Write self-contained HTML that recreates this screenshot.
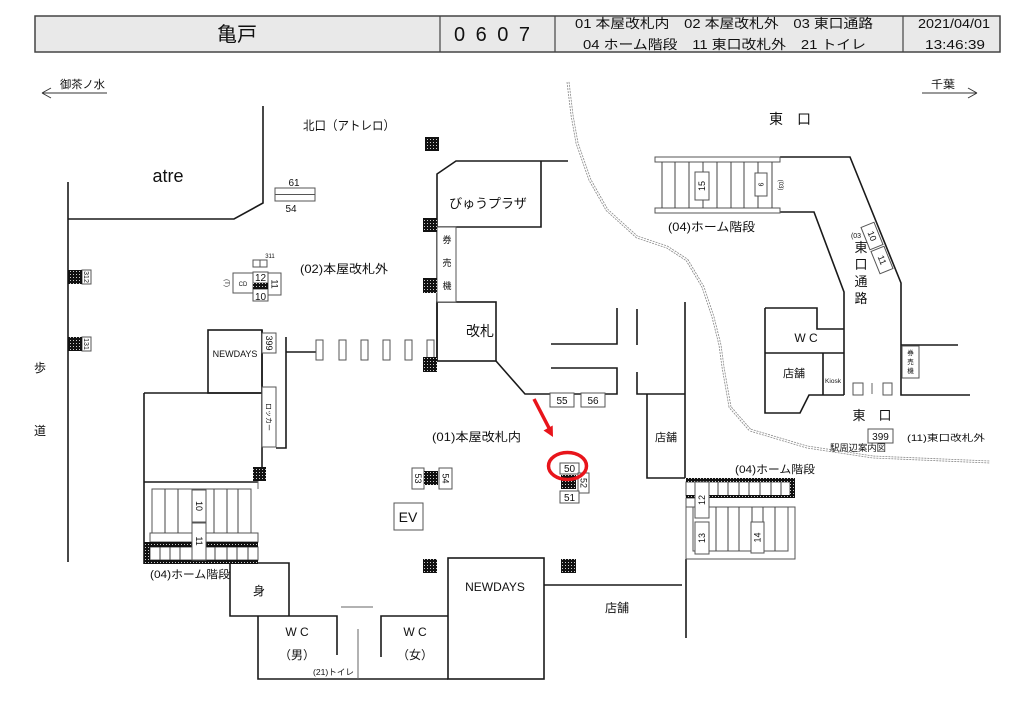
<!DOCTYPE html>
<html><head><meta charset="utf-8"><style>
html,body{margin:0;padding:0;background:#fff;}
svg{display:block;}
text{font-family:"Liberation Sans","Noto Sans CJK JP",sans-serif;fill:#111;}
</style></head><body>
<svg width="1024" height="724" viewBox="0 0 1024 724" xmlns="http://www.w3.org/2000/svg">
<defs>
<pattern id="h" width="3" height="3" patternUnits="userSpaceOnUse">
<rect width="3" height="3" fill="#111"/><rect x="1" y="1" width="1" height="1" fill="#ccc"/>
</pattern>
</defs>
<rect width="1024" height="724" fill="#fff"/>

<!-- Header -->
<rect x="35" y="16" width="965" height="36" fill="#e9e9e9" stroke="#444" stroke-width="1.5"/>
<line x1="440" y1="16" x2="440" y2="52" stroke="#444" stroke-width="1.2"/>
<line x1="555" y1="16" x2="555" y2="52" stroke="#444" stroke-width="1.2"/>
<line x1="903" y1="16" x2="903" y2="52" stroke="#444" stroke-width="1.2"/>
<text x="237" y="41" font-size="20" text-anchor="middle">亀戸</text>
<text x="454" y="41" font-size="20" textLength="76" lengthAdjust="spacing">0607</text>
<text x="575" y="28" font-size="13" textLength="298" lengthAdjust="spacingAndGlyphs">01 本屋改札内　02 本屋改札外　03 東口通路</text>
<text x="583" y="49" font-size="13" textLength="283" lengthAdjust="spacingAndGlyphs">04 ホーム階段　11 東口改札外　21 トイレ</text>
<text x="918" y="28" font-size="13" textLength="72" lengthAdjust="spacingAndGlyphs">2021/04/01</text>
<text x="925" y="49" font-size="13" textLength="60" lengthAdjust="spacingAndGlyphs">13:46:39</text>

<!-- direction arrows -->
<g stroke="#333" stroke-width="1" fill="none">
<path d="M42,93 H107 M42,93 L51,88 M42,93 L51,98"/>
<path d="M922,93 H977 M977,93 L968,88 M977,93 L968,98"/>
</g>
<text x="60" y="88" font-size="11" textLength="45" lengthAdjust="spacingAndGlyphs">御茶ノ水</text>
<text x="931" y="88" font-size="11" textLength="24" lengthAdjust="spacingAndGlyphs">千葉</text>

<!-- dashed curve -->
<polyline points="568,82 572,115 577,143 590,180 607,210 637,237 667,247 687,260 703,287 713,317 720,345 723,367 730,407 750,430 807,447 873,457 990,462" fill="none" stroke="#888" stroke-width="2.8" stroke-dasharray="2,1" stroke-linejoin="round"/>
<polyline points="568,82 572,115 577,143 590,180 607,210 637,237 667,247 687,260 703,287 713,317 720,345 723,367 730,407 750,430 807,447 873,457 990,462" fill="none" stroke="#fff" stroke-width="1.2" stroke-linejoin="round"/>

<!-- main walls -->
<g stroke="#1a1a1a" stroke-width="1.6" fill="none">
<path d="M68,182 V562"/>
<path d="M68,219 H234 L263,203 V106"/>
<path d="M437,361 V174 L456,161 H568"/>
<path d="M541,161 V227 H437"/>
<rect x="437" y="302" width="59" height="59"/>
<path d="M496,361 L525,394 H617 V368 H551"/>
<path d="M551,344 H617 V308"/>
<path d="M637,309 V345 M637,372 V394 H685"/>
<path d="M685,302 V478"/>
<path d="M647,394 V478 H685"/>
<path d="M686,559 V638"/>
<path d="M544,585 H682"/>
<rect x="448" y="558" width="96" height="121"/>
<path d="M230,563 H289 V616 M230,563 V616 H337 V655"/>
<path d="M258,616 V679 H448"/>
<path d="M381,657 V616 H448"/>
<path d="M144,393 V564 M144,393 H262 M144,482 H258"/>
<path d="M262,330 V467"/>
<rect x="208" y="330" width="54" height="63"/>
<path d="M276,448 H286 V337 M286,352 H316"/>
<path d="M780,157 H850 L901,283 V395 H970 M901,345 H958"/>
<path d="M780,212 H814 L844,292 V395"/>
<path d="M765,308 H817 V329 H844 M765,308 V413 H800 L809,395 H844 M765,353 H844 M823,353 V395"/>
</g>
<g stroke="#666" stroke-width="1" fill="none">
<path d="M341,607 H373"/>
<path d="M358,629 V679"/>
<path d="M872,383 V394"/>
<path d="M258,481 V489"/>
</g>

<!-- boxes thin -->
<g stroke="#555" stroke-width="1" fill="#fff">
<rect x="437" y="227" width="19" height="75"/>
<rect x="262" y="333" width="14" height="20"/>
<rect x="262" y="387" width="14" height="60"/>
<rect x="316" y="340" width="7" height="20"/><rect x="339" y="340" width="7" height="20"/>
<rect x="361" y="340" width="7" height="20"/><rect x="383" y="340" width="7" height="20"/>
<rect x="405" y="340" width="7" height="20"/><rect x="427" y="340" width="7" height="20"/>
<rect x="275" y="188" width="40" height="13"/><line x1="275" y1="194.5" x2="315" y2="194.5"/>
<rect x="253" y="260" width="14" height="7"/><line x1="260" y1="260" x2="260" y2="267"/>
<rect x="233" y="273" width="20" height="20"/>
<rect x="253" y="272" width="15" height="11"/>
<rect x="253" y="289" width="15" height="12"/>
<rect x="268" y="273" width="13" height="22"/>
<rect x="550" y="393" width="24" height="14"/>
<rect x="581" y="393" width="24" height="14"/>
<rect x="412" y="468" width="12" height="21"/>
<rect x="439" y="468" width="13" height="21"/>
<rect x="394" y="503" width="29" height="27"/>
<rect x="560" y="463" width="19" height="11"/>
<rect x="578" y="473" width="11" height="20"/>
<rect x="560" y="491" width="19" height="12"/>
<rect x="82" y="270" width="9" height="14"/>
<rect x="82" y="337" width="9" height="14"/>
<rect x="868" y="429" width="25" height="14"/>
<rect x="853" y="383" width="10" height="12"/>
<rect x="883" y="383" width="9" height="12"/>
<rect x="902" y="346" width="17" height="32"/>
<!-- top right stairs -->
<rect x="655" y="157" width="125" height="5"/>
<rect x="655" y="208" width="125" height="5"/>
</g>
<g stroke="#444" stroke-width="1">
<path d="M662,162 V208 M675,162 V208 M689,162 V208 M703,162 V208 M717,162 V208 M731,162 V208 M744,162 V208 M758,162 V208 M772,162 V208"/>
</g>
<g stroke="#555" stroke-width="1" fill="#fff">
<rect x="695" y="172" width="14" height="28"/>
<rect x="755" y="173" width="12" height="23"/>
<g transform="translate(872,236) rotate(-22)"><rect x="-7" y="-12" width="14" height="24"/></g>
<g transform="translate(882,260) rotate(-22)"><rect x="-7" y="-12" width="14" height="24"/></g>
</g>

<!-- left stairs -->
<g stroke="#555" stroke-width="1" fill="#fff">
<rect x="152" y="489" width="99" height="44"/>
<rect x="150" y="533" width="108" height="9"/>
<rect x="150" y="547" width="108" height="13"/>
</g>
<g stroke="#444" stroke-width="1">
<path d="M165,489 V533 M178,489 V533 M214,489 V533 M227,489 V533 M238,489 V533"/>
<path d="M160,547 V560 M170,547 V560 M180,547 V560 M215,547 V560 M227,547 V560 M237,547 V560 M248,547 V560"/>
</g>
<rect x="144" y="542" width="114" height="5" fill="url(#h)"/>
<rect x="144" y="560" width="114" height="4" fill="url(#h)"/>
<rect x="144" y="542" width="6" height="22" fill="url(#h)"/>
<g stroke="#555" stroke-width="1" fill="#fff">
<rect x="192" y="490" width="14" height="32"/>
<rect x="192" y="523" width="14" height="37"/>
</g>

<!-- right stairs -->
<g stroke="#555" stroke-width="1" fill="#fff">
<rect x="686" y="482" width="104" height="14"/>
<rect x="686" y="507" width="109" height="52"/>
<rect x="693" y="507" width="95" height="44"/>
<rect x="686" y="498" width="9" height="9"/>
</g>
<g stroke="#444" stroke-width="1">
<path d="M718,482 V496 M728,482 V496 M739,482 V496 M749,482 V496 M760,482 V496 M771,482 V496 M781,482 V496"/>
<path d="M716,507 V551 M728,507 V551 M739,507 V551 M752,507 V551 M763,507 V551 M775,507 V551"/>
</g>
<rect x="686" y="478" width="109" height="4" fill="url(#h)"/>
<rect x="790" y="478" width="5" height="20" fill="url(#h)"/>
<rect x="686" y="495" width="104" height="3" fill="url(#h)"/>
<g stroke="#555" stroke-width="1" fill="#fff">
<rect x="695" y="482" width="14" height="36"/>
<rect x="695" y="522" width="14" height="32"/>
<rect x="751" y="522" width="13" height="31"/>
</g>

<!-- pillars -->
<g fill="url(#h)">
<rect x="425" y="137" width="14" height="14"/>
<rect x="423" y="218" width="14" height="14"/>
<rect x="423" y="278" width="14" height="15"/>
<rect x="423" y="357" width="14" height="15"/>
<rect x="68" y="270" width="14" height="14"/>
<rect x="68" y="337" width="14" height="14"/>
<rect x="253" y="467" width="13" height="14"/>
<rect x="424" y="471" width="14" height="14"/>
<rect x="561" y="475" width="15" height="14"/>
<rect x="423" y="559" width="14" height="14"/>
<rect x="561" y="559" width="15" height="14"/>
<rect x="253" y="283" width="15" height="6"/>
</g>

<!-- red marker -->
<line x1="534" y1="399" x2="549" y2="428" stroke="#e8141b" stroke-width="3.5"/>
<polygon points="553,437 552.7,425.5 543.5,430.5" fill="#e8141b"/>
<ellipse cx="567.5" cy="466" rx="19" ry="13.5" fill="none" stroke="#e8141b" stroke-width="3.5"/>

<!-- labels -->
<text x="303" y="130" font-size="12.5" textLength="92" lengthAdjust="spacingAndGlyphs">北口（アトレロ）</text>
<text x="168" y="182" font-size="18" text-anchor="middle">atre</text>
<text x="294" y="186" font-size="10" text-anchor="middle">61</text>
<text x="291" y="212" font-size="10" text-anchor="middle">54</text>
<text x="300" y="273" font-size="12" textLength="88" lengthAdjust="spacingAndGlyphs">(02)本屋改札外</text>
<text x="488" y="208" font-size="13" text-anchor="middle">びゅうプラザ</text>
<text x="447" y="243" font-size="9" text-anchor="middle">券</text>
<text x="447" y="266" font-size="9" text-anchor="middle">売</text>
<text x="447" y="289" font-size="9" text-anchor="middle">機</text>
<text x="480" y="336" font-size="14" text-anchor="middle">改札</text>
<text x="432" y="441" font-size="12" textLength="89" lengthAdjust="spacingAndGlyphs">(01)本屋改札内</text>
<text x="270" y="258" font-size="6" text-anchor="middle">311</text>
<text x="243" y="286" font-size="6" text-anchor="middle">CD</text>
<text x="227" y="285" font-size="6" text-anchor="middle" transform="rotate(90 227 283)">(T)</text>
<text x="260.5" y="281" font-size="10" text-anchor="middle">12</text>
<text x="260.5" y="300" font-size="10" text-anchor="middle">10</text>
<text x="274.5" y="284" font-size="9" text-anchor="middle" transform="rotate(90 274.5 284)" dy="3">11</text>
<text x="86.5" y="277" font-size="7" text-anchor="middle" transform="rotate(90 86.5 277)" dy="2.5" fill="#fff">312</text>
<text x="86.5" y="344" font-size="7" text-anchor="middle" transform="rotate(90 86.5 344)" dy="2.5">131</text>
<text x="40" y="372" font-size="12" text-anchor="middle">歩</text>
<text x="40" y="435" font-size="12" text-anchor="middle">道</text>
<text x="235" y="357" font-size="9" text-anchor="middle">NEWDAYS</text>
<text x="269" y="343" font-size="9" text-anchor="middle" transform="rotate(90 269 343)" dy="3">399</text>
<text x="269" y="417" font-size="7" text-anchor="middle" transform="rotate(90 269 417)" dy="2.5">ロッカー</text>
<text x="199" y="506" font-size="9" text-anchor="middle" transform="rotate(90 199 506)" dy="3">10</text>
<text x="199" y="541" font-size="9" text-anchor="middle" transform="rotate(90 199 541)" dy="3">11</text>
<text x="150" y="578" font-size="11" textLength="80" lengthAdjust="spacingAndGlyphs">(04)ホーム階段</text>
<text x="259" y="595" font-size="12" text-anchor="middle">身</text>
<text x="297" y="636" font-size="12" text-anchor="middle">W C</text>
<text x="297" y="659" font-size="12" text-anchor="middle">（男）</text>
<text x="415" y="636" font-size="12" text-anchor="middle">W C</text>
<text x="415" y="659" font-size="12" text-anchor="middle">（女）</text>
<text x="313" y="675" font-size="8.5" textLength="41" lengthAdjust="spacingAndGlyphs">(21)トイレ</text>
<text x="495" y="591" font-size="12" text-anchor="middle">NEWDAYS</text>
<text x="617" y="612" font-size="12" text-anchor="middle">店舗</text>
<text x="408" y="522" font-size="14" text-anchor="middle">EV</text>
<text x="418" y="478.5" font-size="9" text-anchor="middle" transform="rotate(90 418 478.5)" dy="3">53</text>
<text x="445.5" y="478.5" font-size="9" text-anchor="middle" transform="rotate(90 445.5 478.5)" dy="3">54</text>
<text x="562" y="404" font-size="10" text-anchor="middle">55</text>
<text x="593" y="404" font-size="10" text-anchor="middle">56</text>
<text x="569.5" y="472" font-size="10" text-anchor="middle">50</text>
<text x="569.5" y="501" font-size="10" text-anchor="middle">51</text>
<text x="583.5" y="483" font-size="9" text-anchor="middle" transform="rotate(90 583.5 483)" dy="3">52</text>
<text x="666" y="441" font-size="11" text-anchor="middle">店舗</text>
<text x="735" y="473" font-size="11" textLength="80" lengthAdjust="spacingAndGlyphs">(04)ホーム階段</text>
<text x="702" y="500" font-size="9" text-anchor="middle" transform="rotate(-90 702 500)" dy="3">12</text>
<text x="702" y="538" font-size="9" text-anchor="middle" transform="rotate(-90 702 538)" dy="3">13</text>
<text x="757.5" y="537.5" font-size="9" text-anchor="middle" transform="rotate(-90 757.5 537.5)" dy="3">14</text>
<text x="702" y="186" font-size="9" text-anchor="middle" transform="rotate(-90 702 186)" dy="3">15</text>
<text x="761" y="184.5" font-size="7" text-anchor="middle" transform="rotate(90 761 184.5)" dy="2.5">9</text>
<text x="781" y="185" font-size="6" text-anchor="middle" transform="rotate(90 781 185)" dy="2">(03)</text>
<text x="790" y="124" font-size="14" text-anchor="middle">東　口</text>
<text x="668" y="231" font-size="12" textLength="87" lengthAdjust="spacingAndGlyphs">(04)ホーム階段</text>
<text x="872" y="236" font-size="9" text-anchor="middle" transform="rotate(68 872 236)" dy="3">10</text>
<text x="882" y="260" font-size="9" text-anchor="middle" transform="rotate(68 882 260)" dy="3">11</text>
<text x="856" y="238" font-size="7" text-anchor="middle">(03</text>
<text x="861" y="252" font-size="13" text-anchor="middle">東</text>
<text x="861" y="269" font-size="13" text-anchor="middle">口</text>
<text x="861" y="286" font-size="13" text-anchor="middle">通</text>
<text x="861" y="303" font-size="13" text-anchor="middle">路</text>
<text x="806" y="342" font-size="12" text-anchor="middle">W C</text>
<text x="794" y="377" font-size="11" text-anchor="middle">店舗</text>
<text x="833" y="383" font-size="6.5" text-anchor="middle">Kiosk</text>
<text x="910.5" y="355" font-size="6.5" text-anchor="middle">券</text>
<text x="910.5" y="364" font-size="6.5" text-anchor="middle">売</text>
<text x="910.5" y="373" font-size="6.5" text-anchor="middle">機</text>
<text x="872" y="420" font-size="13" text-anchor="middle">東　口</text>
<text x="880.5" y="440" font-size="10" text-anchor="middle">399</text>
<text x="830" y="451" font-size="9" textLength="56" lengthAdjust="spacingAndGlyphs">駅周辺案内図</text>
<text x="907" y="441" font-size="9" textLength="78" lengthAdjust="spacingAndGlyphs">(11)東口改札外</text>
</svg>
</body></html>
